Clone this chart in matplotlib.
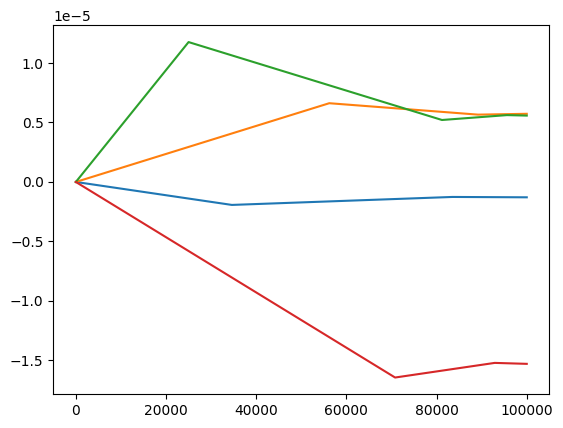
import matplotlib
matplotlib.use("Agg")
import matplotlib.pyplot as plt

blue_x = [0, 34600, 83500, 100000]
blue_y = [0, -0.193e-5, -0.126e-5, -0.129e-5]
orange_x = [0, 56200, 89200, 100000]
orange_y = [0, 0.662e-5, 0.566e-5, 0.573e-5]
green_x = [0, 25000, 81200, 95600, 100000]
green_y = [0, 1.176e-5, 0.521e-5, 0.562e-5, 0.558e-5]
red_x = [0, 70800, 92900, 100000]
red_y = [0, -1.644e-5, -1.521e-5, -1.529e-5]

W, H = 563, 428
fig = plt.figure(figsize=(W / 100, H / 100), dpi=100)
ax = fig.add_axes([53.3 / W, (H - 394.3) / H, (549.3 - 53.3) / W, (394.3 - 25.3) / H])
ax.plot(blue_x, blue_y)
ax.plot(orange_x, orange_y)
ax.plot(green_x, green_y)
ax.plot(red_x, red_y)
fig.savefig("out.png", dpi=100)
